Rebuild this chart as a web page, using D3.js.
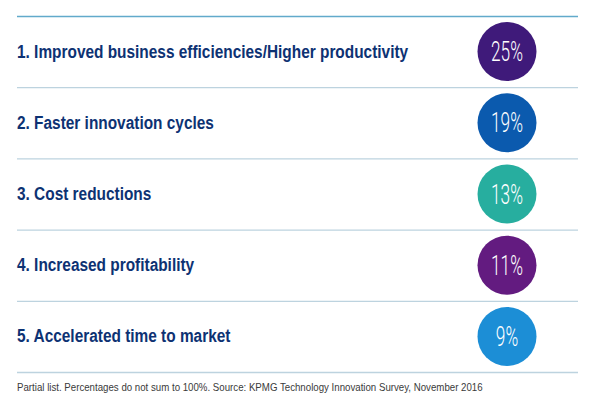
<!DOCTYPE html>
<html>
<head>
<meta charset="utf-8">
<script src="https://cdn.jsdelivr.net/npm/d3@7"></script>
<style>
  body { margin: 0; background: #fff; }
  svg { display: block; }
</style>
</head>
<body>
<svg id="svg" width="593" height="407"></svg>
<script>
// benefits list, in rank order
var labels = [
    '1. Improved business efficiencies/Higher productivity',
    '2. Faster innovation cycles',
    '3. Cost reductions',
    '4. Increased profitability',
    '5. Accelerated time to market'
]
var values = [25, 19, 13, 11, 9]
var colors = ['#3f1a7a', '#0b5aae', '#27ae9f', '#631b80', '#1c8ed6']
var note = 'Partial list. Percentages do not sum to 100%. Source: KPMG Technology Innovation Survey, November 2016'

var marginLeft = 17,
    marginRight = 578,
    marginTop = 16,
    marginBottom = 372

var svg = d3.select('#svg')

var y = d3.scaleBand()
    .domain(d3.range(labels.length))
    .range([marginTop, marginBottom])
    .padding(0)

// condensed fonts are not installed, so squeeze the text
function condense(k) {
    return function() {
        var w = this.getComputedTextLength()
        d3.select(this)
            .attr('textLength', w * k)
            .attr('lengthAdjust', 'spacingAndGlyphs')
    }
}

// row separators
var edges = d3.range(labels.length + 1).map(function(i) {
    return i < labels.length ? y(i) : y(labels.length - 1) + y.bandwidth()
})

svg.selectAll('.rule')
    .data(edges)
    .enter()
    .append('line')
    .attr('class', 'rule')
    .attr('x1', marginLeft)
    .attr('x2', marginRight)
    .attr('y1', function(d) { return d + 0.5 })
    .attr('y2', function(d) { return d + 0.5 })
    .style('stroke', function(d, i) { return i == 0 ? '#62aacb' : '#bdd3df' })
    .style('stroke-width', 1.3)

var rows = svg.selectAll('.row')
    .data(labels)
    .enter()
    .append('g')
    .attr('class', 'row')
    .attr('transform', function(d, i) {
        return 'translate(0,' + (y(i) + y.bandwidth() / 2) + ')'
    })

rows.append('text')
    .attr('x', marginLeft)
    .attr('y', 6)
    .text(function(d) { return d })
    .style('font-family', '"Liberation Sans", Arial, sans-serif')
    .style('font-weight', 'bold')
    .style('font-size', '17.5px')
    .style('fill', '#0d3273')
    .each(condense(0.88))

// 圆圈里的百分比
var r = 29.5
rows.append('circle')
    .attr('cx', 507)
    .attr('r', r)
    .style('fill', function(d, i) { return colors[i] })

rows.append('text')
    .attr('x', 507)
    .attr('y', 9.5)
    .attr('text-anchor', 'middle')
    .text(function(d, i) { return values[i] + '%' })
    .style('font-family', 'Roboto, sans-serif')
    .style('font-weight', 300)
    .style('font-size', '27px')
    .style('fill', '#fff')
    .each(condense(0.64))

svg.append('text')
    .attr('x', marginLeft)
    .attr('y', 391)
    .text(note)
    .style('font-family', '"Liberation Sans", Arial, sans-serif')
    .style('font-size', '11px')
    .style('fill', '#3a3a3a')
    .each(condense(0.88))
</script>
</body>
</html>
